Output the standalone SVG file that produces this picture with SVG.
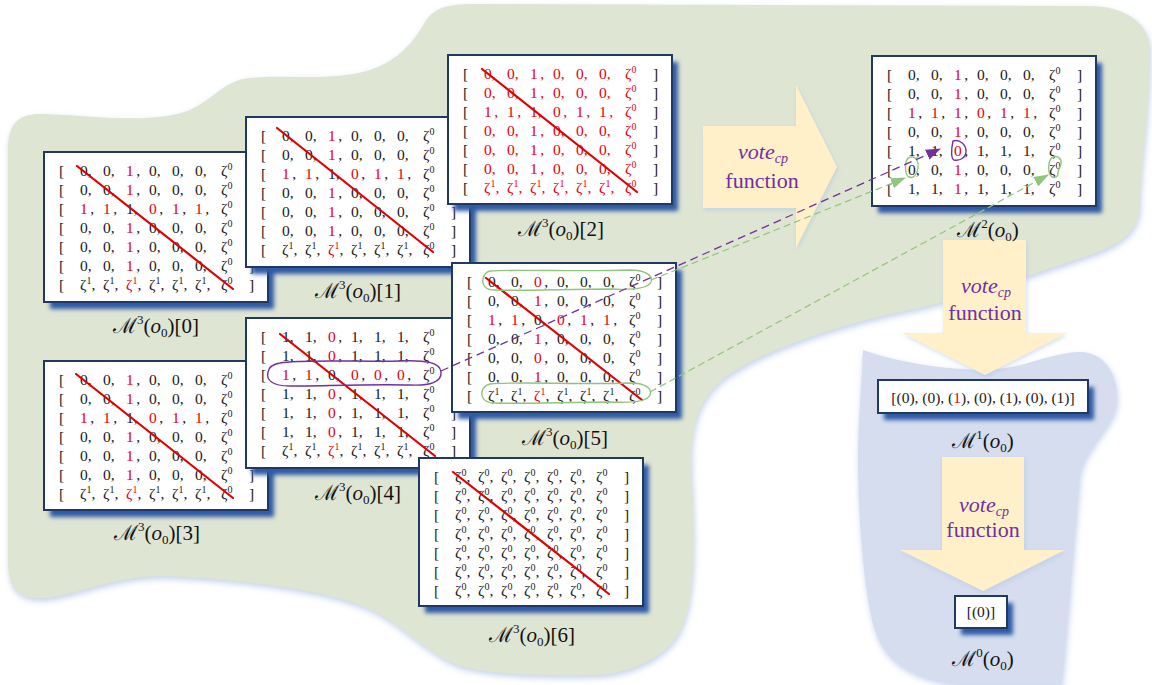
<svg xmlns="http://www.w3.org/2000/svg" width="1152" height="685" viewBox="0 0 1152 685">
<defs>
<style>
.bx{fill:#fff;stroke:#1f3864;stroke-width:2}
.sh{fill:#2f5aa6;filter:url(#bl)}
.m{font-family:"Liberation Serif","DejaVu Serif",serif;font-size:15.5px}
.r{fill:#e8000b}
.k{fill:#1a1a1a}
.s{font-size:10px}
.mx{fill:#1a1a1a}
.mr{fill:#e8000b}
.dg{stroke:#e00000;stroke-width:2.2;stroke-linecap:round}
.lab{font-family:"Liberation Serif","DejaVu Serif",serif;font-size:21px;fill:#111}
.vt{font-family:"Liberation Serif","DejaVu Serif",serif;font-size:22px;fill:#7030a0}
.ar{fill:#fff0c9;filter:url(#gl2)}
.pl{fill:none;stroke:#7030a0;stroke-width:1.4}
.gl{fill:none;stroke:#93c47d;stroke-width:1.4}
</style>
<filter id="bl" x="-10%" y="-10%" width="120%" height="130%"><feGaussianBlur stdDeviation="2.2"/></filter>
<filter id="gl" x="-5%" y="-5%" width="110%" height="112%"><feDropShadow dx="1" dy="3" stdDeviation="3" flood-color="#9db4dc" flood-opacity="0.6"/></filter>
<filter id="gl2" x="-10%" y="-10%" width="120%" height="120%"><feDropShadow dx="1" dy="2" stdDeviation="2" flood-color="#a9c0e0" flood-opacity="0.5"/></filter>
<marker id="ap" viewBox="0 0 14 10" refX="13" refY="5" markerWidth="15" markerHeight="11" orient="auto" markerUnits="userSpaceOnUse"><path d="M0,0 L14,5 L0,10 Z" fill="#7030a0"/></marker>
<marker id="ag" viewBox="0 0 14 10" refX="13" refY="5" markerWidth="15" markerHeight="11" orient="auto" markerUnits="userSpaceOnUse"><path d="M0,0 L14,5 L0,10 Z" fill="#93c47d"/></marker>

<text id="rA" class="m"><tspan class="k" x="15">[</tspan><tspan x="36">0,</tspan><tspan x="59">0,</tspan><tspan x="82" class="r">1</tspan><tspan dx="2.5">,</tspan><tspan x="105">0,</tspan><tspan x="128">0,</tspan><tspan x="151">0,</tspan><tspan x="177">ζ</tspan><tspan class="s" dy="-6">0</tspan><tspan class="k" x="205" dy="6">]</tspan></text>
<text id="rA0" class="m"><tspan class="k" x="15">[</tspan><tspan x="36">0,</tspan><tspan x="59">0,</tspan><tspan x="82" class="r">0</tspan><tspan dx="2.5">,</tspan><tspan x="105">0,</tspan><tspan x="128">0,</tspan><tspan x="151">0,</tspan><tspan x="177">ζ</tspan><tspan class="s" dy="-6">0</tspan><tspan class="k" x="205" dy="6">]</tspan></text>
<text id="rB" class="m"><tspan class="k" x="15">[</tspan><tspan x="36" class="r">1</tspan><tspan dx="2.5">,</tspan><tspan x="59" class="r">1</tspan><tspan dx="2.5">,</tspan><tspan x="82">1,</tspan><tspan x="105" class="r">0</tspan><tspan dx="2.5">,</tspan><tspan x="128" class="r">1</tspan><tspan dx="2.5">,</tspan><tspan x="151" class="r">1</tspan><tspan dx="2.5">,</tspan><tspan x="177">ζ</tspan><tspan class="s" dy="-6">0</tspan><tspan class="k" x="205" dy="6">]</tspan></text>
<text id="r4a" class="m"><tspan class="k" x="15">[</tspan><tspan x="36">1,</tspan><tspan x="59">1,</tspan><tspan x="82" class="r">0</tspan><tspan dx="2.5">,</tspan><tspan x="105">1,</tspan><tspan x="128">1,</tspan><tspan x="151">1,</tspan><tspan x="177">ζ</tspan><tspan class="s" dy="-6">0</tspan><tspan class="k" x="205" dy="6">]</tspan></text>
<text id="r4b" class="m"><tspan class="k" x="15">[</tspan><tspan x="36" class="r">1</tspan><tspan dx="2.5">,</tspan><tspan x="59" class="r">1</tspan><tspan dx="2.5">,</tspan><tspan x="82">0,</tspan><tspan x="105" class="r">0</tspan><tspan dx="2.5">,</tspan><tspan x="128" class="r">0</tspan><tspan dx="2.5">,</tspan><tspan x="151" class="r">0</tspan><tspan dx="2.5">,</tspan><tspan x="177">ζ</tspan><tspan class="s" dy="-6">0</tspan><tspan class="k" x="205" dy="6">]</tspan></text>
<text id="r5b" class="m"><tspan class="k" x="15">[</tspan><tspan x="36" class="r">1</tspan><tspan dx="2.5">,</tspan><tspan x="59" class="r">1</tspan><tspan dx="2.5">,</tspan><tspan x="82">0,</tspan><tspan x="105" class="r">0</tspan><tspan dx="2.5">,</tspan><tspan x="128" class="r">1</tspan><tspan dx="2.5">,</tspan><tspan x="151" class="r">1</tspan><tspan dx="2.5">,</tspan><tspan x="177">ζ</tspan><tspan class="s" dy="-6">0</tspan><tspan class="k" x="205" dy="6">]</tspan></text>
<text id="rM3" class="m"><tspan class="k" x="15">[</tspan><tspan x="36" class="r">1</tspan><tspan dx="2.5">,</tspan><tspan x="59" class="r">1</tspan><tspan dx="2.5">,</tspan><tspan x="82" class="r">1</tspan><tspan dx="2.5">,</tspan><tspan x="105" class="r">0</tspan><tspan dx="2.5">,</tspan><tspan x="128" class="r">1</tspan><tspan dx="2.5">,</tspan><tspan x="151" class="r">1</tspan><tspan dx="2.5">,</tspan><tspan x="177">ζ</tspan><tspan class="s" dy="-6">0</tspan><tspan class="k" x="205" dy="6">]</tspan></text>
<text id="rM7" class="m"><tspan class="k" x="15">[</tspan><tspan x="36">1,</tspan><tspan x="59">1,</tspan><tspan x="82" class="r">1</tspan><tspan dx="2.5">,</tspan><tspan x="105">1,</tspan><tspan x="128">1,</tspan><tspan x="151">1,</tspan><tspan x="177">ζ</tspan><tspan class="s" dy="-6">0</tspan><tspan class="k" x="205" dy="6">]</tspan></text>
<text id="rZ" class="m"><tspan class="k" x="15">[</tspan><tspan x="36">ζ</tspan><tspan class="s" dy="-6">1</tspan><tspan dy="6">,</tspan><tspan x="59">ζ</tspan><tspan class="s" dy="-6">1</tspan><tspan dy="6">,</tspan><tspan x="82" class="r">ζ</tspan><tspan class="s r" dy="-6">1</tspan><tspan dy="6">,</tspan><tspan x="105">ζ</tspan><tspan class="s" dy="-6">1</tspan><tspan dy="6">,</tspan><tspan x="128">ζ</tspan><tspan class="s" dy="-6">1</tspan><tspan dy="6">,</tspan><tspan x="151">ζ</tspan><tspan class="s" dy="-6">1</tspan><tspan dy="6">,</tspan><tspan x="177">ζ</tspan><tspan class="s" dy="-6">0</tspan><tspan class="k" x="205" dy="6">]</tspan></text>
<text id="rZ0" class="m"><tspan class="k" x="15">[</tspan><tspan x="36">ζ</tspan><tspan class="s" dy="-6">0</tspan><tspan dy="6">,</tspan><tspan x="59">ζ</tspan><tspan class="s" dy="-6">0</tspan><tspan dy="6">,</tspan><tspan x="82">ζ</tspan><tspan class="s" dy="-6">0</tspan><tspan dy="6">,</tspan><tspan x="105">ζ</tspan><tspan class="s" dy="-6">0</tspan><tspan dy="6">,</tspan><tspan x="128">ζ</tspan><tspan class="s" dy="-6">0</tspan><tspan dy="6">,</tspan><tspan x="151">ζ</tspan><tspan class="s" dy="-6">0</tspan><tspan dy="6">,</tspan><tspan x="177">ζ</tspan><tspan class="s" dy="-6">0</tspan><tspan class="k" x="205" dy="6">]</tspan></text>
</defs>

<rect width="1152" height="685" fill="#fff"/>

<g id="regions">
<path id="green-region" filter="url(#gl)" fill="#dfe5d3" d="M8,150 C8,122 20,114 40,114 C80,114 150,126 190,110 C215,98 225,80 250,78 C290,74 330,82 370,70 C400,60 415,40 425,22 C435,6 450,4 480,4 L1090,6 C1120,6 1150,20 1150,50 C1150,110 1140,170 1140,205 C1140,230 1120,245 1090,255 C1030,275 960,300 900,312 C840,325 760,350 722,380 C692,405 690,440 692,480 C696,560 695,620 670,645 C650,665 620,675 590,675 C540,676 490,674 460,666 C420,650 400,620 360,605 C320,590 250,580 170,576 C110,574 70,600 35,598 C15,596 8,585 8,560 Z"/>
<path id="blue-region" filter="url(#gl)" fill="#d5ddee" d="M863,350 C880,356 920,368 980,370 C1020,371 1050,352 1080,352 C1105,352 1118,375 1117,400 C1116,425 1085,445 1080,475 C1075,530 1070,600 1062,684 L960,684 C920,680 885,665 875,630 C865,600 858,520 858,460 C858,420 862,380 863,350 Z"/>
</g>

<g id="arrows">
<g id="vote-right"><polygon class="ar" points="703,126 796,126 796,85 837,167 796,248 796,208 703,208"/>
<text class="vt" x="763" y="159" text-anchor="middle"><tspan font-style="italic">vote</tspan><tspan font-style="italic" font-size="14" dy="4">cp</tspan></text>
<text class="vt" x="762" y="188" text-anchor="middle">function</text></g>
<g id="vote-down-1"><polygon class="ar" points="943,240 1026,240 1026,333 1067,333 985,375 902,333 943,333"/>
<text class="vt" x="986" y="293" text-anchor="middle"><tspan font-style="italic">vote</tspan><tspan font-style="italic" font-size="14" dy="4">cp</tspan></text>
<text class="vt" x="985" y="320" text-anchor="middle">function</text></g>
<g id="vote-down-2"><polygon class="ar" points="942,457 1024,457 1024,550 1065,550 983,591 900,550 942,550"/>
<text class="vt" x="984" y="512" text-anchor="middle"><tspan font-style="italic">vote</tspan><tspan font-style="italic" font-size="14" dy="4">cp</tspan></text>
<text class="vt" x="983" y="537" text-anchor="middle">function</text></g>
</g>

<g id="m3-0" transform="translate(44,152)">
<rect class="sh" x="6" y="7" width="224" height="150"/><rect class="bx" width="224" height="150"/>
<g class="mx"><use href="#rA" y="24"/><use href="#rA" y="43"/><use href="#rB" y="62"/><use href="#rA" y="81"/><use href="#rA" y="100"/><use href="#rA" y="119"/><use href="#rZ" y="138"/></g>
<line class="dg" x1="33" y1="14" x2="189" y2="137"/>
<text class="lab" x="112" y="181" text-anchor="middle">ℳ<tspan font-size="13" dy="-9">3</tspan><tspan dy="9">(</tspan><tspan font-style="italic">o</tspan><tspan font-size="13" dy="4">0</tspan><tspan dy="-4">)[0]</tspan></text>
</g>

<g id="m3-1" transform="translate(246,117)">
<rect class="sh" x="6" y="7" width="224" height="150"/><rect class="bx" width="224" height="150"/>
<g class="mx"><use href="#rA" y="24"/><use href="#rA" y="43"/><use href="#rB" y="62"/><use href="#rA" y="81"/><use href="#rA" y="100"/><use href="#rA" y="119"/><use href="#rZ" y="138"/></g>
<line class="dg" x1="31" y1="11" x2="187" y2="135"/>
<text class="lab" x="112" y="181" text-anchor="middle">ℳ<tspan font-size="13" dy="-9">3</tspan><tspan dy="9">(</tspan><tspan font-style="italic">o</tspan><tspan font-size="13" dy="4">0</tspan><tspan dy="-4">)[1]</tspan></text>
</g>

<g id="m3-2" transform="translate(448,55)">
<rect class="sh" x="6" y="7" width="224" height="149"/><rect class="bx" width="224" height="149"/>
<g class="mr"><use href="#rA" y="24"/><use href="#rA" y="43"/><use href="#rB" y="62"/><use href="#rA" y="81"/><use href="#rA" y="100"/><use href="#rA" y="119"/><use href="#rZ" y="138"/></g>
<line class="dg" x1="34" y1="14" x2="189" y2="137"/>
<text class="lab" x="113" y="181" text-anchor="middle">ℳ<tspan font-size="13" dy="-9">3</tspan><tspan dy="9">(</tspan><tspan font-style="italic">o</tspan><tspan font-size="13" dy="4">0</tspan><tspan dy="-4">)[2]</tspan></text>
</g>

<g id="m3-3" transform="translate(44,361)">
<rect class="sh" x="6" y="7" width="224" height="149"/><rect class="bx" width="224" height="149"/>
<g class="mx"><use href="#rA" y="24"/><use href="#rA" y="43"/><use href="#rB" y="62"/><use href="#rA" y="81"/><use href="#rA" y="100"/><use href="#rA" y="119"/><use href="#rZ" y="138"/></g>
<line class="dg" x1="32" y1="13" x2="189" y2="137"/>
<text class="lab" x="113" y="179" text-anchor="middle">ℳ<tspan font-size="13" dy="-9">3</tspan><tspan dy="9">(</tspan><tspan font-style="italic">o</tspan><tspan font-size="13" dy="4">0</tspan><tspan dy="-4">)[3]</tspan></text>
</g>

<g id="m3-4" transform="translate(246,318)">
<rect class="sh" x="6" y="7" width="224" height="150"/><rect class="bx" width="224" height="150"/>
<g class="mx"><use href="#r4a" y="24"/><use href="#r4a" y="43"/><use href="#r4b" y="62"/><use href="#r4a" y="81"/><use href="#r4a" y="100"/><use href="#r4a" y="119"/><use href="#rZ" y="138"/></g>
<line class="dg" x1="34" y1="16" x2="189" y2="138"/>
<text class="lab" x="112" y="182" text-anchor="middle">ℳ<tspan font-size="13" dy="-9">3</tspan><tspan dy="9">(</tspan><tspan font-style="italic">o</tspan><tspan font-size="13" dy="4">0</tspan><tspan dy="-4">)[4]</tspan></text>
</g>

<g id="m3-5" transform="translate(452,263)">
<rect class="sh" x="6" y="7" width="224" height="149"/><rect class="bx" width="224" height="149"/>
<g class="mx"><use href="#rA0" y="24"/><use href="#rA" y="43"/><use href="#r5b" y="62"/><use href="#rA" y="81"/><use href="#rA0" y="100"/><use href="#rA" y="119"/><use href="#rZ" y="138"/></g>
<line class="dg" x1="34" y1="15" x2="190" y2="137"/>
<text class="lab" x="113" y="182" text-anchor="middle">ℳ<tspan font-size="13" dy="-9">3</tspan><tspan dy="9">(</tspan><tspan font-style="italic">o</tspan><tspan font-size="13" dy="4">0</tspan><tspan dy="-4">)[5]</tspan></text>
</g>

<g id="m3-6" transform="translate(419,458)">
<rect class="sh" x="6" y="7" width="224" height="148"/><rect class="bx" width="224" height="148"/>
<g class="mx"><use href="#rZ0" y="24"/><use href="#rZ0" y="43"/><use href="#rZ0" y="62"/><use href="#rZ0" y="81"/><use href="#rZ0" y="100"/><use href="#rZ0" y="119"/><use href="#rZ0" y="138"/></g>
<line class="dg" x1="34" y1="14" x2="190" y2="136"/>
<text class="lab" x="113" y="184" text-anchor="middle">ℳ<tspan font-size="13" dy="-9">3</tspan><tspan dy="9">(</tspan><tspan font-style="italic">o</tspan><tspan font-size="13" dy="4">0</tspan><tspan dy="-4">)[6]</tspan></text>
</g>

<g id="m2" transform="translate(872,56)">
<rect class="sh" x="6" y="7" width="224" height="150"/><rect class="bx" width="224" height="150"/>
<g class="mx"><use href="#rA" y="24"/><use href="#rA" y="43"/><use href="#rM3" y="62"/><use href="#rA" y="81"/><use href="#r4a" y="100"/><use href="#rA" y="119"/><use href="#rM7" y="138"/></g>
<text class="lab" x="116" y="181" text-anchor="middle">ℳ<tspan font-size="13" dy="-9">2</tspan><tspan dy="9">(</tspan><tspan font-style="italic">o</tspan><tspan font-size="13" dy="4">0</tspan><tspan dy="-4">)</tspan></text>
</g>

<g id="m1" transform="translate(878,380)">
<rect class="sh" x="6" y="7" width="210" height="33"/><rect class="bx" width="210" height="33"/>
<text class="m" x="105" y="23" text-anchor="middle" fill="#1a1a1a">[(0), (0), (<tspan class="r">1</tspan>), (0), (1), (0), (1)]</text>
<text class="lab" x="105" y="68" text-anchor="middle">ℳ<tspan font-size="13" dy="-9">1</tspan><tspan dy="9">(</tspan><tspan font-style="italic">o</tspan><tspan font-size="13" dy="4">0</tspan><tspan dy="-4">)</tspan></text>
</g>

<g id="m0" transform="translate(955,596)">
<rect class="sh" x="6" y="7" width="52" height="32"/><rect class="bx" width="52" height="32"/>
<text class="m" x="26" y="21" text-anchor="middle" fill="#1a1a1a">[(0)]</text>
<text class="lab" x="28" y="70" text-anchor="middle">ℳ<tspan font-size="13" dy="-9">0</tspan><tspan dy="9">(</tspan><tspan font-style="italic">o</tspan><tspan font-size="13" dy="4">0</tspan><tspan dy="-4">)</tspan></text>
</g>

<g id="connectors">
<path class="pl" d="M280,363 C300,359 360,362 400,361 C425,360 440,362 441,372 C442,382 430,386 410,385 C370,384 320,386 290,386 C272,386 266,380 268,372 C269,366 274,364 280,363 Z"/>
<path class="gl" d="M490,271 C520,269 580,272 630,270 C648,270 653,277 651,282 C648,289 630,290 610,289 C570,289 520,291 495,290 C484,290 482,284 483,279 C484,274 486,272 490,271 Z"/>
<path class="gl" d="M490,384 C520,381 580,385 630,383 C648,383 652,390 650,395 C647,402 630,403 610,402 C570,402 520,404 495,403 C484,403 481,397 482,392 C483,387 486,385 490,384 Z"/>
<path class="pl" d="M953,141 C960,139 966,145 966,151 C966,158 960,161 954,160 C951,159 951,150 953,141 Z"/>
<path class="gl" d="M911,157 C916,156 919,162 918,168 C917,175 913,179 909,177 C905,175 905,166 906,162 C907,159 909,157 911,157 Z"/>
<path class="gl" d="M1053,157 C1058,155 1062,159 1061,164 C1060,168 1057,171 1058,175 C1056,179 1050,178 1049,172 C1048,166 1049,159 1053,157 Z"/>
<line stroke="#7030a0" stroke-width="1.3" stroke-dasharray="8,5" x1="441" y1="371" x2="940" y2="149" marker-end="url(#ap)"/>
<line stroke="#93c47d" stroke-width="1.2" stroke-dasharray="7,4" x1="651" y1="280" x2="905" y2="178" marker-end="url(#ag)"/>
<line stroke="#93c47d" stroke-width="1.2" stroke-dasharray="7,4" x1="650" y1="392" x2="1048" y2="175" marker-end="url(#ag)"/>
</g>
</svg>
